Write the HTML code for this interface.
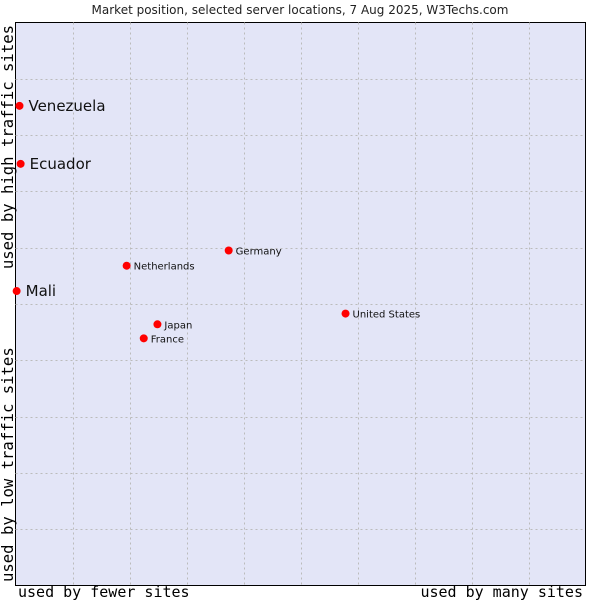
<!DOCTYPE html>
<html><head><meta charset="utf-8"><style>
html,body{margin:0;padding:0;background:#fff;}
svg{display:block;}
</style></head><body>
<svg width="600" height="600" xmlns="http://www.w3.org/2000/svg">
<text x="300" y="14" text-anchor="middle" font-family="DejaVu Sans, sans-serif" font-size="12" fill="#222">Market position, selected server locations, 7 Aug 2025, W3Techs.com</text>
<rect x="15.5" y="22.5" width="570" height="563" fill="#e3e5f7" stroke="#000" stroke-width="1"/>
<g id="grid"></g>
<g id="points"></g>
<text x="18" y="597" font-family="DejaVu Sans Mono, monospace" font-size="15" fill="#000">used by fewer sites</text>
<text x="583" y="597" text-anchor="end" font-family="DejaVu Sans Mono, monospace" font-size="15" fill="#000">used by many sites</text>
<text transform="translate(13,582) rotate(-90)" font-family="DejaVu Sans Mono, monospace" font-size="15.6" fill="#000">used by low traffic sites</text>
<text transform="translate(13,25) rotate(-90)" text-anchor="end" font-family="DejaVu Sans Mono, monospace" font-size="15.6" fill="#000">used by high traffic sites</text>
</svg>
<script>
const names = ["Venezuela","Ecuador","Mali","Netherlands","Germany","Japan","France","United States"];
const xValues = [0.7,0.9,0.2,19.5,37.4,24.9,22.5,57.9];
const yValues = [85.2,74.9,52.3,56.8,59.5,46.4,43.9,48.3];
const highlighted = [true,true,true,false,false,false,false,false];

const L=15.5,R=585.5,T=22.5,B=585.5;
function xs(v){return L+(R-L)*v/100;}
function ys(v){return B-(B-T)*v/100;}
const NS="http://www.w3.org/2000/svg";
const grid=document.getElementById('grid');
for(let i=1;i<10;i++){
  const v=document.createElementNS(NS,'line');
  const x=Math.round(xs(i*10))+0.5;
  v.setAttribute('x1',x);v.setAttribute('x2',x);v.setAttribute('y1',T);v.setAttribute('y2',B);
  v.setAttribute('stroke','#bbb');v.setAttribute('stroke-dasharray','2,3');
  
  
  grid.appendChild(v);
  const h=document.createElementNS(NS,'line');
  const y=Math.round(ys(i*10))+0.5;
  h.setAttribute('x1',L);h.setAttribute('x2',R);h.setAttribute('y1',y);h.setAttribute('y2',y);
  h.setAttribute('stroke','#bbb');h.setAttribute('stroke-dasharray','2,3');
  
  
  grid.appendChild(h);
}
const pts=document.getElementById('points');
names.forEach((n,i)=>{
  const cx=xs(xValues[i]),cy=ys(yValues[i]);
  const c=document.createElementNS(NS,'circle');
  c.setAttribute('cx',cx);c.setAttribute('cy',cy);c.setAttribute('r',4);c.setAttribute('fill','#f00');
  
  
  pts.appendChild(c);
  const t=document.createElementNS(NS,'text');
  const big=highlighted[i];
  t.setAttribute('x',cx+(big?9:7));t.setAttribute('y',cy+(big?5:4));
  t.setAttribute('font-family','DejaVu Sans, sans-serif');
  t.setAttribute('font-size',big?'15':'10');
  t.setAttribute('fill','#111');
  t.textContent=n;
  
  
  pts.appendChild(t);
});
</script>
</body></html>
